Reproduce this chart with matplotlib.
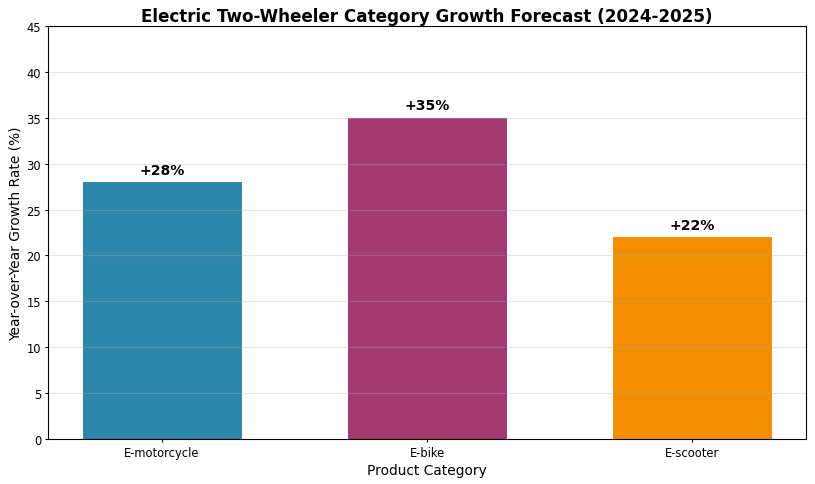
import matplotlib
matplotlib.use('Agg')
import matplotlib.pyplot as plt

categories = ['E-motorcycle', 'E-bike', 'E-scooter']
growth = [28, 35, 22]
colors = ['#2E86AB', '#A23B72', '#F18F01']

fig, ax = plt.subplots(figsize=(8.15, 4.85), dpi=100)

bars = ax.bar(categories, growth, color=colors, width=0.6)

for bar, val in zip(bars, growth):
    ax.text(bar.get_x() + bar.get_width() / 2, val + 0.6, f'+{val}%',
            ha='center', va='bottom', fontsize=10.1, fontweight='bold')

ax.set_ylim(0, 45)
ax.set_xlabel('Product Category', fontsize=9.9, labelpad=3)
ax.set_ylabel('Year-over-Year Growth Rate (%)', fontsize=9.9, labelpad=3)
ax.set_title('Electric Two-Wheeler Category Growth Forecast (2024-2025)',
             fontsize=12.1, fontweight='bold', pad=4)
ax.yaxis.grid(True, alpha=0.3)
ax.tick_params(labelsize=8.3, length=2.5, pad=2.5)

fig.subplots_adjust(left=0.059, right=0.989, top=0.944, bottom=0.093)
plt.savefig('out.png', dpi=100)
